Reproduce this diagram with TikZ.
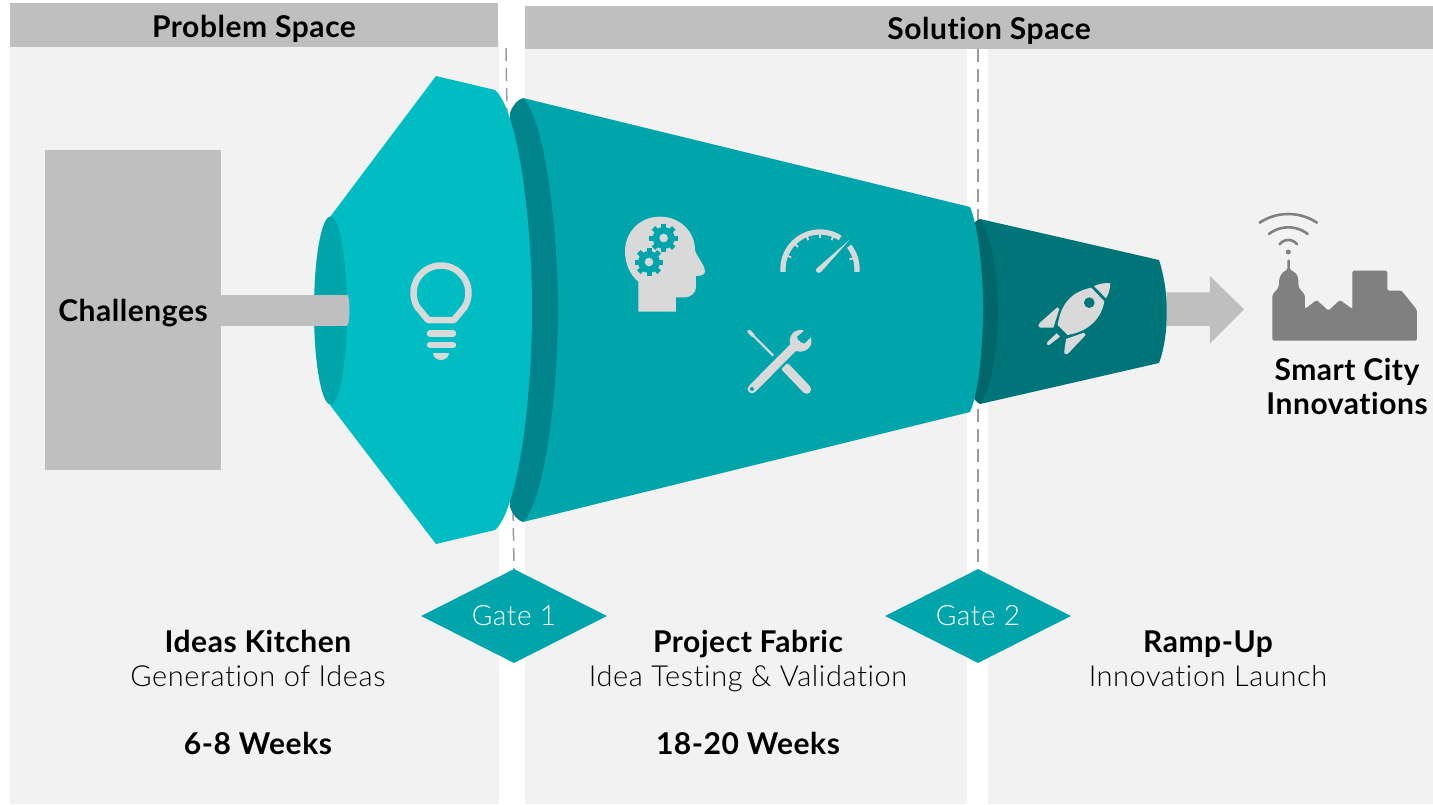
\documentclass[tikz,border=0pt]{standalone}
\usepackage{fontspec}
\setmainfont{Lato}[BoldFont={Lato Bold},Ligatures=NoCommon,LetterSpace=1.8]
\newfontfamily\lightf{Lato Light}[Ligatures=NoCommon,LetterSpace=2]
\usetikzlibrary{shapes.geometric,calc}
\definecolor{panel}{HTML}{F2F2F2}
\definecolor{hdr}{HTML}{BFBFBF}
\definecolor{tealA}{HTML}{00BDC3}
\definecolor{tealB}{HTML}{00A5AB}
\definecolor{tealC}{HTML}{00838A}
\definecolor{tealD}{HTML}{007579}
\definecolor{tealE}{HTML}{00666A}
\definecolor{icon}{HTML}{D9D9D9}
\definecolor{cityc}{HTML}{808080}
\definecolor{dashc}{HTML}{999999}
\tikzset{
 hb/.style={font=\bfseries\fontsize{30}{32}\selectfont,anchor=base,inner sep=0pt,text=black},
 lt/.style={font=\lightf\fontsize{29}{32}\selectfont,anchor=base,inner sep=0pt,text=black},
 gatebox/.style={diamond,aspect=2,fill=tealB,minimum width=186pt,minimum height=94pt,inner sep=0pt,text=white,font=\lightf\fontsize{28}{30}\selectfont},
 gatedash/.style={draw=dashc,line width=1.5pt,dash pattern=on 13pt off 7pt},
}
\newcommand{\geararm}[2]{%
 \fill[tealB] (#1,#2) circle[radius=33];
 \foreach \a in {0,45,...,315}{\draw[tealB,line width=5pt] ({#1+28*cos(\a)},{#2+28*sin(\a)}) -- ({#1+43*cos(\a)},{#2+43*sin(\a)});}
 \fill[icon] (#1,#2) circle[radius=13];
}
\begin{document}
\begin{tikzpicture}[x=1pt,y=-1pt]
\useasboundingbox (0,0) rectangle (1433,804);
\fill[white] (0,0) rectangle (1433,804);
% panels
\fill[panel] (10,40) rectangle (499,804);
\fill[panel] (525,40) rectangle (967,804);
\fill[panel] (988,40) rectangle (1433,804);
\fill[hdr] (10,3) rectangle (498,47);
\fill[hdr] (525,6) rectangle (1433,49);
\node[hb] (ps) at (254,37) {Problem Space};
\node[hb] (ss) at (989,39) {Solution Space};
% gates
\node[gatebox] (g1) at (514,616) {\raisebox{-1pt}{Gate 1}};
\node[gatebox] (g2) at (978,616) {\raisebox{-1pt}{Gate 2}};
\coordinate (d1) at (506,48);
\coordinate (d2) at (978,49);
\draw[gatedash] (d1) -- (g1.north);
\draw[gatedash] (d2) -- (g2.north);
% challenges
\node[fill=hdr,minimum width=176pt,minimum height=320pt,inner sep=0pt] (chal) at (133,310) {};
% third funnel
\fill[tealD] (980,219) -- (1159,260) .. controls (1164,275) and (1167,295) .. (1167,311) .. controls (1167,330) and (1164,350) .. (1159,363) -- (980,404) -- cycle;
\fill[tealE] (980,219) .. controls (990,232) and (998,270) .. (998,311) .. controls (998,350) and (990,392) .. (980,404) .. controls (972,400) and (970,390) .. (970,380) -- (970,240) .. controls (970,230) and (972,222) .. (980,219) -- cycle;
% middle funnel
\fill[tealB] (523,98) -- (970,207) .. controls (978,225) and (983,270) .. (983,310) .. controls (983,350) and (978,395) .. (970,412) -- (523,522) -- cycle;
\fill[tealC] (523,98) .. controls (545,120) and (558,230) .. (558,310) .. controls (558,390) and (545,500) .. (523,522) .. controls (517,520) and (513,515) .. (510,507) -- (510,113) .. controls (513,105) and (517,100) .. (523,98) -- cycle;
% first funnel
\fill[tealA] (330,217) -- (436,76) -- (495,90) .. controls (518,110) and (532,220) .. (532,310) .. controls (532,400) and (518,510) .. (495,530) -- (436,544) -- (330,405) -- cycle;
\fill[tealB] (330.5,310.5) ellipse[x radius=16.5,y radius=94];
% bar
\coordinate (barend) at (347,310);
\draw[hdr,line width=31pt] (chal.east) -- (barend);
\fill[hdr] (barend) ellipse[x radius=2.5,y radius=15.5];
\node[hb] (ct) at (133,321) {Challenges};
% bulb
\draw[icon,line width=6.5pt,line join=round] (428,320) -- (419,309) -- plot[domain=215:-35,samples=40] ({441+27.5*cos(\x)},{293-27.5*sin(\x)}) -- (463,309) -- (454,320) -- cycle;
\draw[icon,line width=6.5pt,line cap=round] (430,333.5) -- (453,333.5);
\draw[icon,line width=6.5pt,line cap=round] (430,345) -- (453,345);
\fill[icon] (433,353) -- (449,353) .. controls (449,357) and (445,360) .. (441,360) .. controls (437,360) and (433,357) .. (433,353) -- cycle;
% head, gears, gauge, tools (coordinates of a 3x view)
\begin{scope}[shift={(600pt,-200pt)},x=0.3333pt,y=-0.3333pt]
\fill[icon] (115,335) -- (115,245) .. controls (90,225) and (75,190) .. (75,155) .. controls (75,95) and (120,50) .. (180,50) .. controls (240,50) and (285,95) .. (285,150) .. controls (287,165) and (315,195) .. (315,215) .. controls (315,225) and (300,228) .. (288,228) -- (288,262) .. controls (288,280) and (270,292) .. (255,292) -- (228,292) -- (228,335) -- cycle;
\geararm{191}{114}
\geararm{147}{186}
% gauge
\draw[icon,line width=5.3pt] (549,216) -- (549,207) -- plot[domain=180:57,samples=30] ({660+111*cos(\x)},{207-111*sin(\x)});
\draw[icon,line width=5.3pt] (771,216) -- (771,207) -- plot[domain=0:38,samples=12] ({660+111*cos(\x)},{207-111*sin(\x)});
\foreach \a in {18,68,90,112,135,158}{\draw[icon,line width=1.8pt] ({660+104*cos(\a)},{207-104*sin(\a)}) -- ({660+93*cos(\a)},{207-93*sin(\a)});}
\fill[icon] (750,118) -- (664,215) .. controls (660,221) and (650,221) .. (648,213) .. controls (647,208) and (650,204) .. (654,202) -- cycle;
% screwdriver
\draw[icon,line width=9pt,line cap=round] (558,503) -- (620,568);
\draw[icon,line width=2.2pt] (520,467) -- (460,407);
\draw[icon,line width=3.6pt,line cap=round] (460,407) -- (447,394);
% wrench
\draw[tealB,line width=13pt] (480,543) -- (590,433);
\draw[icon,line width=8.7pt,line cap=round] (456,567) -- (590,432);
\fill[icon] (612,392) .. controls (590,384) and (566,400) .. (570,430) -- (585,452) .. controls (610,462) and (642,445) .. (633,412) -- (613,431) -- (596,424) -- (591,410) -- cycle;
\fill[tealB] (456,567) circle[radius=6];
\end{scope}
% rocket, wifi, city
\begin{scope}[shift={(960pt,-190pt)},x=0.3333pt,y=-0.3333pt]
\fill[icon] (402,288) .. controls (420,280) and (440,278) .. (451,280) .. controls (451,295) and (446,312) .. (438,325) -- cycle;
\fill[icon] (394,293) -- (433,334) .. controls (425,385) and (385,425) .. (323,435) -- (293,405) .. controls (303,340) and (335,305) .. (394,293) -- cycle;
\fill[tealD] (388,338) circle[radius=16];
\fill[icon] (292,352) -- (298,357) -- (280,413) -- (240,413) .. controls (232,410) and (235,402) .. (240,398) -- cycle;
\fill[icon] (372,428) -- (377,435) -- (325,490) .. controls (318,496) and (311,492) .. (313,483) -- (318,447) -- cycle;
\fill[icon] (290,430) -- (300,440) -- (268,465) .. controls (262,468) and (258,462) .. (262,456) -- cycle;
\fill[hdr] (620,307) -- (750,307) -- (750,258) -- (852,358) -- (750,460) -- (750,408) -- (620,408) -- cycle;
\fill[cityc] (985,186) circle[radius=7.5];
\foreach \h/\s/\t in {26/13/150,58/20/112,86/26/72}{
 \pgfmathsetmacro{\rr}{(\h*\h+\s*\s)/(2*\s)}
 \pgfmathsetmacro{\aa}{asin(\h/\rr)}
 \draw[cityc,line width=2.6pt,line cap=round] plot[domain=-\aa:\aa,samples=15] ({985+\rr*sin(\x)},{\t+\rr-\rr*cos(\x)});
}
\fill[cityc,rounded corners=1.5pt] (937,452) -- (937,315) -- (956,292) -- (958,268) .. controls (962,252) and (972,244) .. (982,240) -- (982,208) -- (990,208) -- (990,240) .. controls (1002,244) and (1012,252) .. (1015,268) -- (1016,292) -- (1035,315) -- (1035,357) -- (1070,330) -- (1105,362) -- (1140,330) -- (1177,357) -- (1177,242) -- (1282,242) -- (1282,302) -- (1325,302) -- (1371,360) -- (1371,452) -- cycle;
\end{scope}
% texts
\node[hb] (sc) at (1347,380) {Smart City};
\node[hb] (in) at (1347,414) {Innovations};
\node[hb] (ik) at (258,652) {Ideas Kitchen};
\node[lt] (gi) at (258,686) {Generation of Ideas};
\node[hb] (w1) at (258,754) {6-8 Weeks};
\node[hb] (pf) at (748,652) {Project Fabric};
\node[lt] (it) at (748,686) {Idea Testing \& Validation};
\node[hb] (w2) at (748,754) {18-20 Weeks};
\node[hb] (ru) at (1208,652) {Ramp-Up};
\node[lt] (il) at (1208,686) {Innovation Launch};
\end{tikzpicture}
\end{document}
